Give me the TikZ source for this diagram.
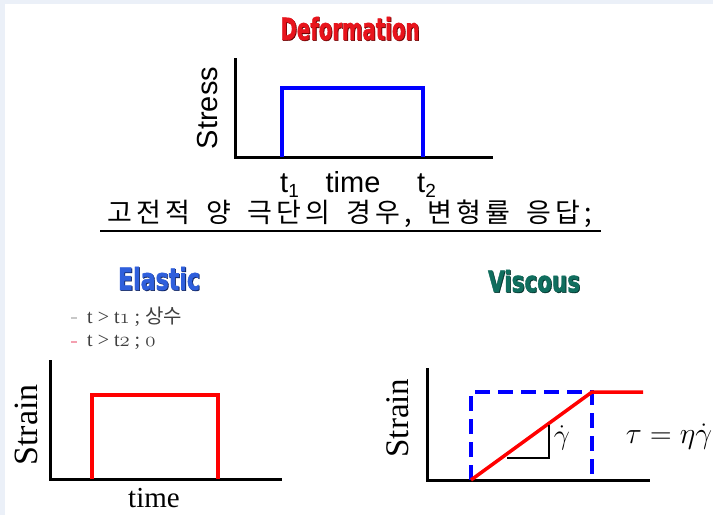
\documentclass[tikz,border=0pt]{standalone}
\usepackage{fontspec}
\setmainfont{Liberation Serif}
\setsansfont{Liberation Sans}
\newfontfamily\kr{Noto Sans CJK KR}
\newfontfamily\krwide{Noto Sans CJK KR}[LetterSpace=15,WordSpace=1.6]
\newfontfamily\ttlfont{DejaVu Sans}[BoldFeatures={FakeBold=1.5}]
\definecolor{bgc}{HTML}{EBF0F8}
\definecolor{defred}{HTML}{E8141C}
\definecolor{defshadow}{HTML}{6A0000}
\definecolor{elblue}{HTML}{2F5FDC}
\definecolor{elshadow}{HTML}{0A1E5A}
\definecolor{viteal}{HTML}{106E5E}
\definecolor{vishadow}{HTML}{03302A}
\definecolor{legray}{HTML}{C8C8C8}
\definecolor{lepink}{HTML}{F4A0B0}
\newcommand\mytitle[3]{\resizebox{#2}{#3}{\ttlfont\bfseries #1}}
\newcommand\osn[1]{{\usefont{OML}{cmm}{m}{it}#1}}
\begin{document}
\begin{tikzpicture}[x=1pt,y=-1pt,
  ax/.style={line width=3pt, line join=miter},
  blu/.style={blue, line width=4pt, line join=miter},
  rd/.style={red, line width=4pt, line join=miter},
  lab/.style={inner sep=0pt},
  sanslab/.style={inner sep=0pt, font=\sffamily\fontsize{29}{29}\selectfont},
  seriflab/.style={inner sep=0pt, font=\rmfamily\fontsize{29}{29}\selectfont}]
\fill[bgc] (0,0) rectangle (713,515);
\fill[white] (5,4) rectangle (713,515);
\useasboundingbox (0,0) rectangle (713,515);

% ---- titles
\node[lab, text=defshadow] (defS) at (350.8,29.3) {\mytitle{Deformation}{139pt}{23pt}};
\node[lab, text=defred] (def) at (350,28.5) {\mytitle{Deformation}{139pt}{23pt}};
\node[lab, text=elshadow] (elS) at (159.8,279.3) {\mytitle{Elastic}{82pt}{23pt}};
\node[lab, text=elblue] (el) at (159,278.5) {\mytitle{Elastic}{82pt}{23pt}};
\node[lab, text=vishadow] (viS) at (534.8,281.8) {\mytitle{Viscous}{92pt}{22pt}};
\node[lab, text=viteal] (vi) at (534,281) {\mytitle{Viscous}{92pt}{22pt}};

% ---- top graph (stress)
\coordinate (sO) at (235,157);
\coordinate (sY) at (235,58);
\coordinate (sX) at (493,157);
\draw[ax] (sY) -- (sO) -- (sX);
\coordinate (b1) at (282,157);
\coordinate (b2) at (282,88);
\coordinate (b3) at (423,88);
\coordinate (b4) at (423,157);
\draw[blu] (b1) -- (b2) -- (b3) -- (b4);
\node[sanslab, rotate=90] (stress) at (208,108) {Stress};
\node[sanslab, anchor=base west] (t1) at (280,192) {t\raisebox{-5pt}{\fontsize{19}{19}\selectfont 1}};
\node[sanslab, anchor=base] (time1) at (353,192) {time};
\node[sanslab, anchor=base west] (t2) at (417,192) {t\raisebox{-5pt}{\fontsize{19}{19}\selectfont 2}};

% ---- Korean heading
\node[lab] (kor) at (350,214) {\krwide\fontsize{27}{27}\selectfont 고전적 양 극단의 경우, 변형률 응답;};
\coordinate (u1) at (100,231);
\coordinate (u2) at (601,231);
\draw[line width=1.5pt] (u1) -- (u2);

% ---- legend
\coordinate (d1a) at (71,318);
\coordinate (d1b) at (77,318);
\coordinate (d2a) at (71,342);
\coordinate (d2b) at (77,342);
\draw[legray, line width=1.5pt] (d1a) -- (d1b);
\draw[lepink, line width=1.5pt] (d2a) -- (d2b);
\node[lab, anchor=base west, text=black!75] (leg1) at (87,323) {\fontsize{20}{20}\selectfont t > t\osn{1} ; {\kr 상수}};
\node[lab, anchor=base west, text=black!75] (leg2) at (87,346) {\fontsize{20}{20}\selectfont t > t\osn{2} ; \osn{0}};

% ---- elastic graph
\coordinate (eO) at (50,479);
\coordinate (eY) at (50,360);
\coordinate (eX) at (282,479);
\draw[ax] (eY) -- (eO) -- (eX);
\coordinate (r1) at (92,479);
\coordinate (r2) at (92,395);
\coordinate (r3) at (218,395);
\coordinate (r4) at (218,479);
\draw[rd] (r1) -- (r2) -- (r3) -- (r4);
\node[lab, rotate=90, font=\rmfamily\fontsize{34}{34}\selectfont] (estrain) at (26,425) {Strain};
\node[seriflab, anchor=base] (etime) at (154,507) {time};

% ---- viscous graph
\coordinate (vO) at (427,480);
\coordinate (vY) at (427,368);
\coordinate (vX) at (650,480);
\draw[ax] (vY) -- (vO) -- (vX);
\coordinate (q1) at (471,480);
\coordinate (q2) at (471,392);
\coordinate (q3) at (592,392);
\coordinate (q4) at (592,480);
\draw[blu, dash pattern=on 15pt off 8pt] (q1) -- (q2) -- (q3) -- (q4);
\coordinate (rEnd) at (643,392);
\draw[red, line width=3.5pt] (q1) -- (q3) -- (rEnd);
\coordinate (tr1) at (507,458);
\coordinate (tr2) at (549,458);
\coordinate (tr3) at (549,425);
\draw[line width=2.5pt, line join=miter] (tr1) -- (tr2) -- (tr3);
\node[lab, font=\fontsize{24.88}{24.88}\selectfont] (gdot) at (562,438) {\scalebox{1.15}{$\dot\gamma$}};
\node[lab, font=\fontsize{24.88}{24.88}\selectfont] (eq) at (669,437) {\scalebox{1.2}{$\tau = \eta\dot\gamma$}};
\node[lab, rotate=90, font=\rmfamily\fontsize{33}{33}\selectfont] (vstrain) at (398,418) {Strain};
\end{tikzpicture}
\end{document}
